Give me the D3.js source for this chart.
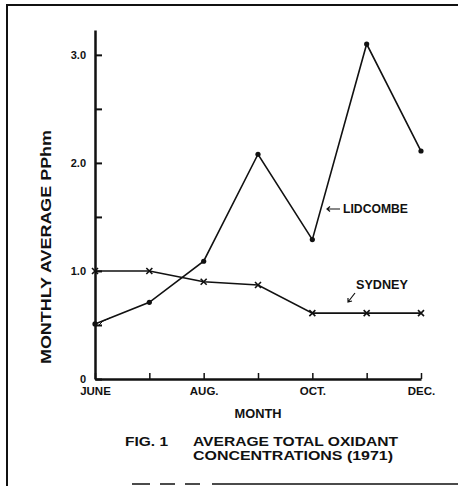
<!DOCTYPE html>
<html>
<head>
<meta charset="utf-8">
<script src="https://cdn.jsdelivr.net/npm/d3@7"></script>
<style>
  body { margin: 0; background: #fff; }
  svg { display: block; }
  text { font-family: "Liberation Sans", Arial, sans-serif; fill: #111; }
</style>
</head>
<body>
<svg width="458" height="486"></svg>
<script>
var months = ["JUN", "JUL", "AUG", "SEP", "OCT", "NOV", "DEC"];
var monthLabels = {"JUN": "JUNE", "AUG": "AUG.", "OCT": "OCT.", "DEC": "DEC."};
var lidcombe = [0.51, 0.71, 1.09, 2.08, 1.29, 3.10, 2.11];
var sydney = [1.00, 1.00, 0.90, 0.87, 0.61, 0.61, 0.61];
var yTicks = [0, 0.5, 1.0, 1.5, 2.0, 2.5, 3.0];
var yLabels = {0: "0", 1: "1.0", 2: "2.0", 3: "3.0"};

var svg = d3.select("svg"),
  width = +svg.attr("width"),
  height = +svg.attr("height");

// scanned page frame
svg.append("path")
  .attr("d", "M7,486 V5 H458")
  .attr("fill", "none").attr("stroke", "#111").attr("stroke-width", 2);
svg.append("path")
  .attr("d", "M132,484 H150 M160,484 H175 M185,484 H200 M212,484 H458")
  .attr("fill", "none").attr("stroke", "#111").attr("stroke-width", 1.5);

var x = d3.scalePoint().domain(months).range([95, 421]);
var y = d3.scaleLinear().domain([0, 3.23]).range([379, 30]);

var yAxis = svg.append("g")
  .attr("transform", "translate(95,0)")
  .call(d3.axisLeft(y).tickValues(yTicks)
    .tickSizeInner(-7).tickSizeOuter(0).tickPadding(9)
    .tickFormat(function(d) { return yLabels[d] || ""; }));
yAxis.select(".domain").attr("stroke", "#111").attr("stroke-width", 2.5);
yAxis.selectAll(".tick line").attr("stroke", "#111").attr("stroke-width", 2);
yAxis.selectAll(".tick text")
  .style("font-size", "11px").style("font-weight", "bold")
  .attr("font-family", null);

var xAxis = svg.append("g")
  .attr("transform", "translate(0,379)")
  .call(d3.axisBottom(x)
    .tickSizeInner(-6).tickSizeOuter(0).tickPadding(8)
    .tickFormat(function(d) { return monthLabels[d] || ""; }));
xAxis.select(".domain").attr("stroke", "#111").attr("stroke-width", 2.5);
xAxis.selectAll(".tick line").attr("stroke", "#111").attr("stroke-width", 1.5);
xAxis.selectAll(".tick text")
  .style("font-size", "11.5px").style("font-weight", "bold")
  .attr("font-family", null);

var line = d3.line()
  .x(function(d, i) { return x(months[i]); })
  .y(function(d) { return y(d); });

svg.append("path").datum(lidcombe)
  .attr("d", line)
  .attr("fill", "none").attr("stroke", "#111").attr("stroke-width", 1.6);
svg.append("path").datum(sydney)
  .attr("d", line)
  .attr("fill", "none").attr("stroke", "#111").attr("stroke-width", 1.6);

svg.selectAll(".dot").data(lidcombe).enter().append("circle")
  .attr("class", "dot")
  .attr("cx", function(d, i) { return x(months[i]); })
  .attr("cy", function(d) { return y(d); })
  .attr("r", 2.6).attr("fill", "#111");

svg.selectAll(".cross").data(sydney).enter().append("path")
  .attr("class", "cross")
  .attr("transform", function(d, i) { return "translate(" + x(months[i]) + "," + y(d) + ")"; })
  .attr("d", "M-3,-3 L3,3 M3,-3 L-3,3")
  .attr("stroke", "#111").attr("stroke-width", 1.6);

// little hook at the June Lidcombe point
svg.append("path")
  .attr("d", "M98,326 Q102,320 110,318")
  .attr("fill", "none").attr("stroke", "#111").attr("stroke-width", 1);

// series labels
svg.append("text").attr("x", 343).attr("y", 213)
  .style("font-size", "12px").style("font-weight", "bold")
  .attr("textLength", 65).attr("lengthAdjust", "spacingAndGlyphs").text("LIDCOMBE");
svg.append("path")
  .attr("d", "M340,209 H327 M330,206.5 L327,209 L330,211.5")
  .attr("fill", "none").attr("stroke", "#111").attr("stroke-width", 1.2);

svg.append("text").attr("x", 356).attr("y", 289)
  .style("font-size", "12px").style("font-weight", "bold")
  .attr("textLength", 52).attr("lengthAdjust", "spacingAndGlyphs").text("SYDNEY");
svg.append("path")
  .attr("d", "M355,293 L348,302 M348,298 L348,302 L352,301")
  .attr("fill", "none").attr("stroke", "#111").attr("stroke-width", 1.2);

// axis titles
svg.append("text")
  .attr("transform", "translate(51,247) rotate(-90)")
  .attr("text-anchor", "middle")
  .style("font-size", "14px").style("font-weight", "bold")
  .attr("textLength", 234).attr("lengthAdjust", "spacingAndGlyphs")
  .text("MONTHLY AVERAGE PPhm");

svg.append("text").attr("x", 258).attr("y", 418)
  .attr("text-anchor", "middle")
  .style("font-size", "12px").style("font-weight", "bold")
  .attr("textLength", 47).attr("lengthAdjust", "spacingAndGlyphs")
  .text("MONTH");

// caption
svg.append("text").attr("x", 125).attr("y", 446)
  .style("font-size", "12.5px").style("font-weight", "bold")
  .attr("textLength", 43).attr("lengthAdjust", "spacingAndGlyphs").text("FIG. 1");
svg.append("text").attr("x", 193).attr("y", 446)
  .style("font-size", "12.5px").style("font-weight", "bold")
  .attr("textLength", 205).attr("lengthAdjust", "spacingAndGlyphs")
  .text("AVERAGE TOTAL OXIDANT");
svg.append("text").attr("x", 193).attr("y", 460)
  .style("font-size", "12.5px").style("font-weight", "bold")
  .attr("textLength", 200).attr("lengthAdjust", "spacingAndGlyphs")
  .text("CONCENTRATIONS (1971)");
</script>
</body>
</html>
